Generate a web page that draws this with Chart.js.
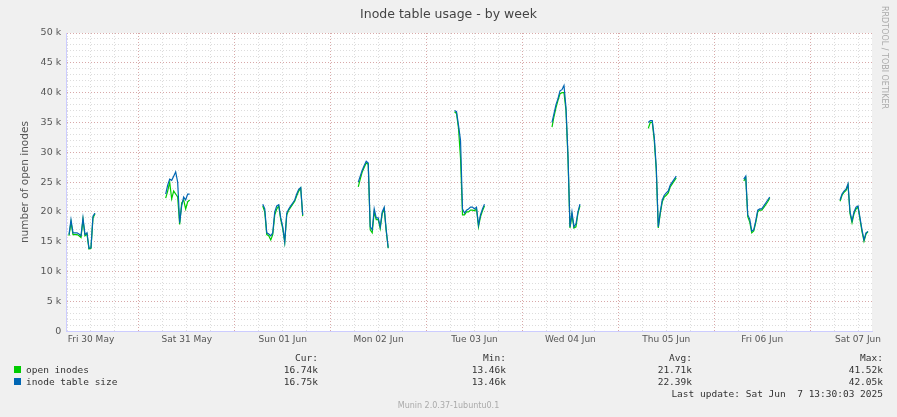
<!DOCTYPE html>
<html><head><meta charset="utf-8">
<script src="https://cdn.jsdelivr.net/npm/chart.js@4/dist/chart.umd.min.js"></script>
<style>
body{margin:0;background:#f0f0f0;width:897px;height:417px;overflow:hidden;position:relative;font-family:"DejaVu Sans",sans-serif;}
#c{position:absolute;left:0;top:0;}
.t{position:absolute;color:#333;font-size:9.5px;font-family:"DejaVu Sans Mono",monospace;white-space:pre;}
</style></head><body>
<canvas id="c" width="897" height="417"></canvas>
<div class="t" style="left:0;width:897px;text-align:center;font-family:'DejaVu Sans';font-size:12.5px;color:#444;top:6px">Inode table usage - by week</div>
<div class="t" style="left:880px;top:6px;writing-mode:vertical-rl;font-family:'DejaVu Sans';font-size:8px;color:#aaa">RRDTOOL / TOBI OETIKER</div>
<div id="leg"></div>
<div class="t" style="left:0;top:401px;width:897px;text-align:center;font-family:'DejaVu Sans';font-size:8px;color:#aaa">Munin 2.0.37-1ubuntu0.1</div>
<script>
// hours since Fri 30 May 00:00; samples every 0.5 h
const segStarts = [6.5, 30.7, 55.0, 78.9, 103.0, 127.4, 151.5, 175.4, 199.5];
const sizeSegs = [
 [16.2,18.7,16.5,16.5,16.5,16.3,16.0,19.0,16.2,16.5,13.9,14.0,19.3,19.8],
 [23.0,24.5,25.5,25.3,26.0,26.7,25.0,18.2,21.0,22.5,22.0,23.0,23.0],
 [21.3,20.5,16.5,16.3,16.0,16.5,20.0,21.0,21.2,19.0,17.5,15.0,19.8,20.5,21.0,21.5,22.0,23.0,23.8,24.1,19.5],
 [25.0,26.0,27.0,27.8,28.5,28.2,17.5,17.0,20.5,19.0,19.0,17.5,20.0,20.8,17.0,14.0],
 [37.0,36.8,34.5,32.0,20.5,19.8,20.3,20.5,20.8,20.8,20.5,20.8,17.8,19.5,20.5,21.3],
 [35.0,36.5,38.0,39.0,40.3,40.5,41.2,37.5,29.5,17.5,20.0,17.5,18.0,20.0,21.3],
 [35.0,35.3,35.3,32.5,27.5,17.5,20.0,22.0,22.8,23.2,23.5,24.5,25.0,25.5,26.0],
 [25.5,26.0,19.5,18.8,16.8,17.0,18.5,20.3,20.5,20.5,21.0,21.5,22.0,22.5],
 [22.0,23.0,23.5,23.8,24.7,20.0,18.5,20.0,20.8,21.0,19.0,17.0,15.3,16.5,16.7]
];
const openSegs = [
 [16.0,18.3,16.2,16.2,16.2,16.0,15.7,18.7,16.0,16.3,13.8,13.9,19.0,19.7],
 [22.3,23.5,25.0,22.2,23.5,23.0,22.5,17.9,21.5,22.0,20.5,21.7,22.0],
 [21.0,20.0,16.2,16.0,15.3,16.2,19.5,20.5,21.0,18.7,17.2,14.9,19.5,20.3,20.8,21.3,21.8,22.7,23.5,24.0,19.3],
 [24.2,25.5,26.7,27.5,28.2,28.0,17.0,16.5,20.0,18.7,18.7,17.2,19.7,20.5,16.8,13.9],
 [36.8,36.5,34.0,29.0,19.5,19.5,20.0,20.0,20.3,20.3,20.2,20.5,17.5,19.2,20.2,21.0],
 [34.2,36.0,37.5,38.7,39.8,40.0,40.0,37.0,29.0,17.3,19.5,17.3,17.5,19.8,21.0],
 [34.0,35.0,35.0,32.0,27.0,17.3,19.7,21.7,22.5,22.8,23.2,24.2,24.7,25.2,25.7],
 [25.2,25.7,19.2,18.3,16.5,16.8,18.2,20.0,20.3,20.3,20.7,21.2,21.7,22.3],
 [21.8,22.8,23.3,23.6,24.5,19.7,18.2,19.7,20.5,20.8,18.7,16.7,15.1,16.3,16.7]
];
const dayLabels = ["Fri 30 May","Sat 31 May","Sun 01 Jun","Mon 02 Jun","Tue 03 Jun","Wed 04 Jun","Thu 05 Jun","Fri 06 Jun","Sat 07 Jun"];
const legendRows = [
 ["open inodes","#00cc00","16.74k","13.46k","21.71k","41.52k"],
 ["inode table size","#0066b3","16.75k","13.46k","22.39k","42.05k"]
];
function build(segs){const d=[];segs.forEach((s,i)=>{s.forEach((v,j)=>d.push({x:segStarts[i]+j*0.5,y:v*1000}));d.push({x:segStarts[i]+s.length*0.5,y:null});});return d;}
const L=document.getElementById('leg');
let h='<div class="t" style="left:250px;top:352px;width:68px;text-align:right">Cur:</div><div class="t" style="left:440px;top:352px;width:66px;text-align:right">Min:</div><div class="t" style="left:620px;top:352px;width:72px;text-align:right">Avg:</div><div class="t" style="left:800px;top:352px;width:83px;text-align:right">Max:</div>';
legendRows.forEach((r,i)=>{const y=364+i*12;
h+=`<div style="position:absolute;left:14px;top:${y+2}px;width:7px;height:7px;background:${r[1]}"></div><div class="t" style="left:26px;top:${y}px">${r[0]}</div>`;
h+=`<div class="t" style="left:250px;top:${y}px;width:68px;text-align:right">${r[2]}</div><div class="t" style="left:440px;top:${y}px;width:66px;text-align:right">${r[3]}</div><div class="t" style="left:620px;top:${y}px;width:72px;text-align:right">${r[4]}</div><div class="t" style="left:800px;top:${y}px;width:83px;text-align:right">${r[5]}</div>`;});
h+='<div class="t" style="left:600px;top:388px;width:283px;text-align:right">Last update: Sat Jun  7 13:30:03 2025</div>';
L.innerHTML=h;
const bgPlugin={id:'bg',beforeDraw(c){const a=c.chartArea,x=c.ctx;x.save();x.fillStyle='#fff';x.fillRect(a.left,a.top,a.right-a.left,a.bottom-a.top);x.restore();}};
new Chart(document.getElementById('c'),{type:'line',
 data:{datasets:[
  {data:build(sizeSegs),borderColor:'#0066b3',borderWidth:1.2,pointRadius:0,spanGaps:false,tension:0},
  {data:build(openSegs),borderColor:'#00cc00',borderWidth:1.2,pointRadius:0,spanGaps:false,tension:0}]},
 options:{responsive:false,animation:false,devicePixelRatio:1,
  layout:{padding:{top:33,right:25,bottom:69,left:15}},
  plugins:{legend:{display:false},tooltip:{enabled:false}},
  scales:{
   x:{type:'linear',min:5.8,max:207.5,
     afterBuildTicks(ax){const t=[];for(let v=6;v<=204;v+=6)t.push({value:v});ax.ticks=t;},
     ticks:{autoSkip:false,maxRotation:0,color:'#555',font:{size:9,family:'DejaVu Sans'},padding:3,
       callback(v){return v%24===12?dayLabels[(v-12)/24]:'';}},
     grid:{drawTicks:false,color:c=>c.tick&&c.tick.value%24===0?'#d8a8a8':'#dcdcdc'},
     border:{color:'#ccccff',dash:[1,2]}},
   y:{min:0,max:50000,
     afterBuildTicks(ax){const t=[];for(let v=0;v<=50000;v+=1000)t.push({value:v});ax.ticks=t;},
     ticks:{autoSkip:false,color:'#555',font:{size:9.5,family:'DejaVu Sans'},padding:5,
       callback(v){return v%5000===0?(v===0?'0':(v/1000)+' k'):'';}},
     grid:{drawTicks:false,color:c=>c.tick&&c.tick.value%5000===0?'#d8a8a8':'#dcdcdc'},
     border:{color:'#ccccff',dash:[1,2]},
     title:{display:true,text:'number of open inodes',color:'#555',font:{size:10.5,family:'DejaVu Sans'},padding:4}}
  }},plugins:[bgPlugin]});
</script></body></html>
